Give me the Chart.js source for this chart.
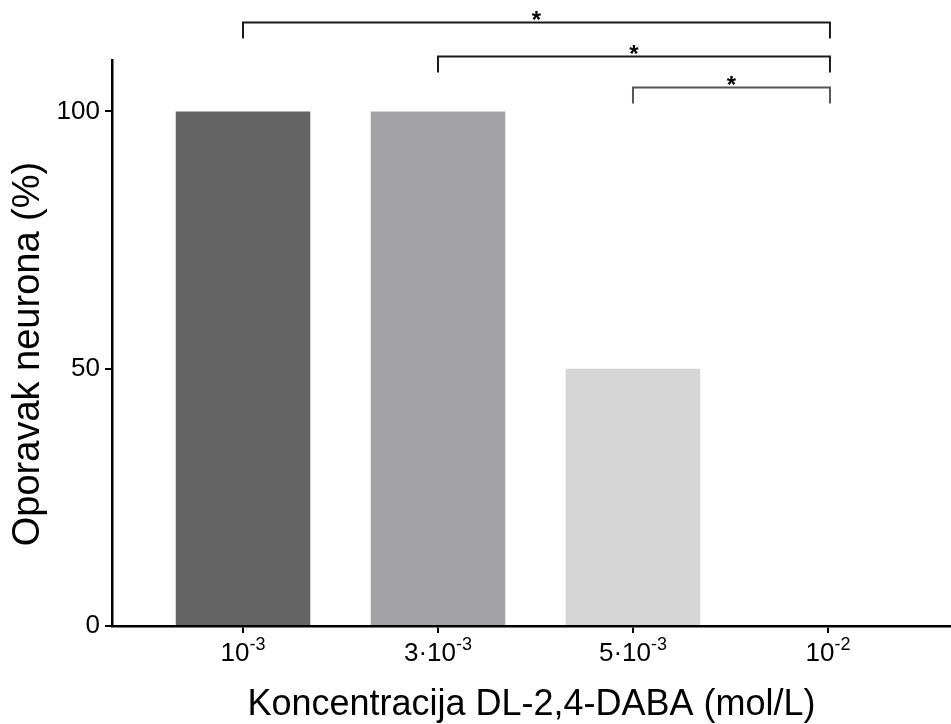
<!DOCTYPE html>
<html>
<head>
<meta charset="utf-8">
<script src="https://cdn.jsdelivr.net/npm/chart.js@4.4.1/dist/chart.umd.min.js"></script>
<style>
    html, body { margin: 0; padding: 0; background: #fff; }
    #chart { display: block; }
</style>
</head>
<body>
<canvas id="chart" width="951" height="724"></canvas>
<script>
    'use strict';

    // concentrations (mol/L), drawn as base + superscript exponent
    var categories = ['10^-3', '3·10^-3', '5·10^-3', '10^-2'];
    var tickBase = ['10', '3·10', '5·10', '10'];
    var tickExp = ['-3', '-3', '-3', '-2'];
    var recovery = [100, 100, 50, 0];
    var barColors = ['#646464', '#a3a2a6', '#d5d5d5', '#ffffff'];
    var yTicks = [0, 50, 100];
    var yTitle = 'Oporavak neurona (%)';
    // significance brackets: [from category, to category]
    var comparisons = [[0, 3], [1, 3], [2, 3]];
    var compLabels = ['*', '*', '*'];

    var FONT = "'Liberation Sans', Arial, sans-serif";

    // superscript tick labels under the x axis + y title (sits a bit low in the original)
    var labelsPlugin = {
        id: 'expLabels',
        afterDraw: function (chart) {
            var ctx = chart.ctx;
            var xs = chart.scales.x;
            var area = chart.chartArea;
            ctx.save();
            ctx.fillStyle = '#000';
            ctx.textBaseline = 'alphabetic';
            ctx.textAlign = 'left';
            tickBase.forEach(function (base, i) {
                ctx.font = '26px ' + FONT;
                var wb = ctx.measureText(base).width;
                ctx.font = '18px ' + FONT;
                var we = ctx.measureText(tickExp[i]).width;
                var x0 = xs.getPixelForValue(i) - (wb + we) / 2;
                ctx.font = '26px ' + FONT;
                ctx.fillText(base, x0, area.bottom + 35);
                ctx.font = '18px ' + FONT;
                ctx.fillText(tickExp[i], x0 + wb, area.bottom + 24);
            });

            ctx.translate(39, (area.top + area.bottom) / 2 + 11);
            ctx.rotate(-Math.PI / 2);
            ctx.font = '38px ' + FONT;
            ctx.textAlign = 'center';
            ctx.fillText(yTitle, 0, 0);
            ctx.restore();
        }
    };

    // comparison brackets with asterisks above the bars
    var bracketPlugin = {
        id: 'brackets',
        afterDraw: function (chart) {
            var ctx = chart.ctx;
            var xs = chart.scales.x, ys = chart.scales.y;
            var levels = [117.4, 110.8, 104.8];
            var legLen = 16;
            var strokes = ['#1a1a1a', '#1a1a1a', '#555555'];
            ctx.save();
            comparisons.forEach(function (c, i) {
                var x1 = xs.getPixelForValue(c[0]);
                var x2 = xs.getPixelForValue(c[1]) + 2;
                var y = Math.round(ys.getPixelForValue(levels[i])) + 0.5;
                ctx.strokeStyle = strokes[i];
                ctx.lineWidth = 2;
                ctx.beginPath();
                ctx.moveTo(x1, y + legLen);
                ctx.lineTo(x1, y);
                ctx.lineTo(x2, y);
                ctx.lineTo(x2, y + legLen);
                ctx.stroke();

                ctx.fillStyle = '#000';
                ctx.font = 'bold 24px ' + FONT;
                ctx.textAlign = 'center';
                ctx.textBaseline = 'alphabetic';
                var m = ctx.measureText(compLabels[i]);
                var centre = y - 7;
                var base = centre + (m.actualBoundingBoxAscent - m.actualBoundingBoxDescent) / 2;
                ctx.fillText(compLabels[i], (x1 + x2) / 2, base);
            });
            ctx.restore();
        }
    };

    var ctx = document.getElementById('chart').getContext('2d');
    var chart = new Chart(ctx, {
        type: 'bar',
        data: {
            labels: categories,
            datasets: [{
                label: yTitle,
                data: recovery.map(function (v, i) { return {x: i, y: v}; }),
                backgroundColor: barColors,
                borderWidth: 0,
                barPercentage: 0.69,
                categoryPercentage: 1.0
            }]
        },
        options: {
            responsive: false,
            animation: false,
            layout: {padding: {top: 60, right: 0, left: 0, bottom: 0}},
            plugins: {
                legend: {display: false},
                tooltip: {enabled: false}
            },
            scales: {
                x: {
                    type: 'linear',
                    min: -0.672,
                    max: 3.631,
                    offset: false,
                    afterBuildTicks: function (scale) {
                        scale.ticks = categories.map(function (c, i) { return {value: i}; });
                    },
                    afterFit: function (scale) { scale.height = 98; },
                    grid: {
                        display: true,
                        offset: false,
                        drawOnChartArea: false,
                        drawTicks: true,
                        tickLength: 7,
                        color: '#000',
                        lineWidth: 2
                    },
                    border: {display: true, color: '#000', width: 2.5},
                    ticks: {
                        autoSkip: false,
                        maxRotation: 0,
                        callback: function () { return ''; }
                    },
                    title: {
                        display: true,
                        text: 'Koncentracija DL-2,4-DABA (mol/L)',
                        color: '#000',
                        font: {family: FONT, size: 36, lineHeight: 1},
                        padding: {top: 0, bottom: 1}
                    }
                },
                y: {
                    min: 0,
                    max: 110,
                    afterBuildTicks: function (scale) {
                        scale.ticks = yTicks.map(function (v) { return {value: v}; });
                    },
                    afterFit: function (scale) { scale.width = 112; },
                    grid: {
                        display: true,
                        drawOnChartArea: false,
                        drawTicks: true,
                        tickLength: 7,
                        color: '#000',
                        lineWidth: 2
                    },
                    border: {display: true, color: '#000', width: 2.5},
                    ticks: {
                        color: '#000',
                        padding: 5,
                        font: {family: FONT, size: 26}
                    }
                }
            }
        },
        plugins: [labelsPlugin, bracketPlugin]
    });
</script>
</body>
</html>
